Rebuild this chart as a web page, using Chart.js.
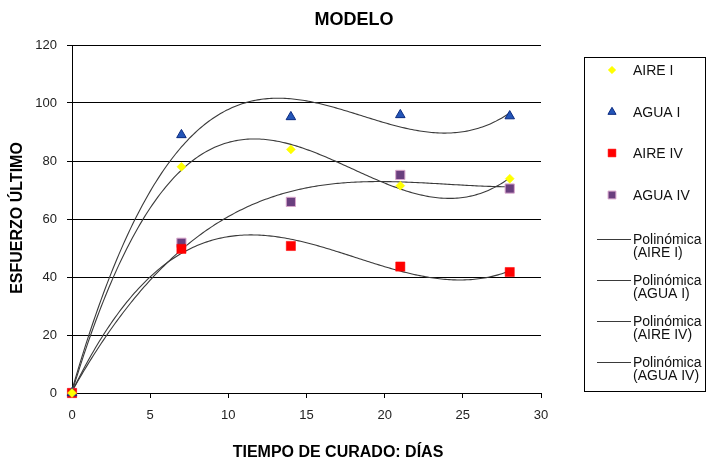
<!DOCTYPE html>
<html>
<head>
<meta charset="utf-8">
<script src="https://cdn.jsdelivr.net/npm/chart.js@4/dist/chart.umd.min.js"></script>
<style>
  html, body { margin: 0; padding: 0; background: #fff; }
  #wrap { width: 709px; height: 461px; }
</style>
</head>
<body>
<div id="wrap"><canvas id="c" width="709" height="461"></canvas></div>
<script>
// Curing age (days) and ultimate strength per curing condition
const dias   = [0, 7, 14, 21, 28];
const aireI  = [0, 78.0, 84.0, 71.5, 73.9];
const aguaI  = [0, 89.0, 95.2, 95.9, 95.5];
const aireIV = [0, 49.7, 50.7, 43.6, 41.7];
const aguaIV = [0, 51.8, 65.9, 75.2, 70.5];

const seriesNames = ['AIRE I', 'AGUA I', 'AIRE IV', 'AGUA IV'];
const xTicks = [0, 5, 10, 15, 20, 25, 30];
const yTicks = [0, 20, 40, 60, 80, 100, 120];

const FONT = "'Liberation Sans', Arial, Helvetica, sans-serif";

// Least-squares polynomial (order 3) trendline
function polyFit(xs, ys, order) {
  const n = order + 1;
  const A = [];
  for (let r = 0; r < n; r++) {
    const row = [];
    for (let c = 0; c < n; c++) {
      let s = 0;
      xs.forEach(x => { s += Math.pow(x, r + c); });
      row.push(s);
    }
    let b = 0;
    xs.forEach((x, i) => { b += ys[i] * Math.pow(x, r); });
    row.push(b);
    A.push(row);
  }
  for (let i = 0; i < n; i++) {
    let p = i;
    for (let k = i + 1; k < n; k++) if (Math.abs(A[k][i]) > Math.abs(A[p][i])) p = k;
    [A[i], A[p]] = [A[p], A[i]];
    for (let k = i + 1; k < n; k++) {
      const f = A[k][i] / A[i][i];
      for (let c = i; c <= n; c++) A[k][c] -= f * A[i][c];
    }
  }
  const coef = new Array(n).fill(0);
  for (let i = n - 1; i >= 0; i--) {
    let s = A[i][n];
    for (let c = i + 1; c < n; c++) s -= A[i][c] * coef[c];
    coef[i] = s / A[i][i];
  }
  return coef;
}

function trendPoints(xs, ys) {
  const coef = polyFit(xs, ys, 3);
  const pts = [];
  const x0 = xs[0], x1 = xs[xs.length - 1];
  for (let k = 0; k <= 224; k++) {
    const x = x0 + (x1 - x0) * k / 224;
    let y = 0;
    coef.forEach((c, i) => { y += c * Math.pow(x, i); });
    pts.push({ x, y });
  }
  return pts;
}

const toXY = ys => dias.map((d, i) => ({ x: d, y: ys[i] }));

const markerStyles = [
  { pointStyle: 'rectRot',  radius: 4.5, bg: '#FFFF00', border: '#FFFF00', bw: 0.5 },
  { pointStyle: 'triangle', radius: 5.5, bg: '#2355B8', border: '#0A2A80', bw: 1 },
  { pointStyle: 'rect',     radius: 6.5, bg: '#FF0000', border: '#FF0000', bw: 0.5 },
  { pointStyle: 'rect',     radius: 6.5, bg: '#6A3F7E', border: '#D9A6CC', bw: 1 }
];

const allSeries = [aireI, aguaI, aireIV, aguaIV];

const pointSets = allSeries.map((ys, i) => ({
  label: seriesNames[i],
  data: toXY(ys),
  showLine: false,
  pointStyle: markerStyles[i].pointStyle,
  pointRadius: markerStyles[i].radius,
  pointBackgroundColor: markerStyles[i].bg,
  pointBorderColor: markerStyles[i].border,
  pointBorderWidth: markerStyles[i].bw,
  clip: 12,
  order: 0
}));

const trendSets = allSeries.map((ys, i) => ({
  label: 'Polinómica\n(' + seriesNames[i] + ')',
  data: trendPoints(dias, ys),
  showLine: true,
  borderColor: '#3a3a3a',
  borderWidth: 1.1,
  pointRadius: 0,
  tension: 0,
  fill: false,
  order: 1
}));

// Titles and boxed legend drawn onto the canvas
const decorations = {
  id: 'decorations',
  afterDraw(chart) {
    const ctx = chart.ctx;
    ctx.save();
    ctx.fillStyle = '#000';
    ctx.textAlign = 'center';
    ctx.textBaseline = 'middle';

    ctx.font = 'bold 18px ' + FONT;
    ctx.fillText('MODELO', 354, 20);

    ctx.font = 'bold 16px ' + FONT;
    ctx.fillText('TIEMPO DE CURADO: DÍAS', 338, 453);

    ctx.save();
    ctx.translate(18, 218);
    ctx.rotate(-Math.PI / 2);
    ctx.fillText('ESFUERZO ÚLTIMO', 0, 0);
    ctx.restore();

    // legend box
    ctx.strokeStyle = '#000';
    ctx.lineWidth = 1;
    ctx.strokeRect(584.5, 57.5, 121, 334);

    ctx.textAlign = 'left';
    ctx.font = '14px ' + FONT;
    // marker entries
    const markerRows = [70, 112, 153, 195];
    pointSets.forEach((d, i) => {
      const y = markerRows[i];
      ctx.save();
      ctx.fillStyle = d.pointBackgroundColor;
      ctx.strokeStyle = d.pointBorderColor;
      ctx.lineWidth = d.pointBorderWidth;
      Chart.helpers.drawPoint(ctx, { pointStyle: d.pointStyle, radius: d.pointRadius * 0.85, borderWidth: d.pointBorderWidth }, 612, y);
      ctx.restore();
      ctx.fillStyle = '#111';
      ctx.fillText(d.label, 633, y + 1);
    });
    // trendline entries
    const lineRows = [239, 280, 321, 362];
    trendSets.forEach((d, i) => {
      const y = lineRows[i];
      ctx.strokeStyle = d.borderColor;
      ctx.lineWidth = 1.2;
      ctx.beginPath();
      ctx.moveTo(597, y + 0.5);
      ctx.lineTo(631, y + 0.5);
      ctx.stroke();
      ctx.fillStyle = '#111';
      d.label.split('\n').forEach((t, k) => ctx.fillText(t, 633, y + 1 + k * 13.5));
    });
    ctx.restore();
  }
};

new Chart(document.getElementById('c'), {
  type: 'scatter',
  data: { datasets: [...pointSets, ...trendSets] },
  options: {
    responsive: false,
    animation: false,
    layout: { padding: { top: 45, right: 168, bottom: 0, left: 0 } },
    plugins: {
      legend: { display: false },
      title: { display: false },
      tooltip: { enabled: false }
    },
    scales: {
      x: {
        type: 'linear',
        min: 0, max: 30,
        afterBuildTicks: s => { s.ticks = xTicks.map(v => ({ value: v })); },
        afterFit: s => { s.height = 68; },
        ticks: { color: '#222', font: { family: FONT, size: 13 }, padding: 10, maxRotation: 0 },
        grid: { drawOnChartArea: false, drawTicks: true, tickLength: 5, color: '#000', lineWidth: 1 },
        border: { display: true, color: '#000', width: 1 }
      },
      y: {
        min: 0, max: 120,
        afterBuildTicks: s => { s.ticks = yTicks.map(v => ({ value: v })); },
        afterFit: s => { s.width = 72; },
        ticks: { color: '#222', font: { family: FONT, size: 13 }, padding: 10 },
        grid: { drawTicks: true, tickLength: 5, color: '#000', lineWidth: 1 },
        border: { display: true, color: '#000', width: 1 }
      }
    }
  },
  plugins: [decorations]
});
</script>
</body>
</html>
